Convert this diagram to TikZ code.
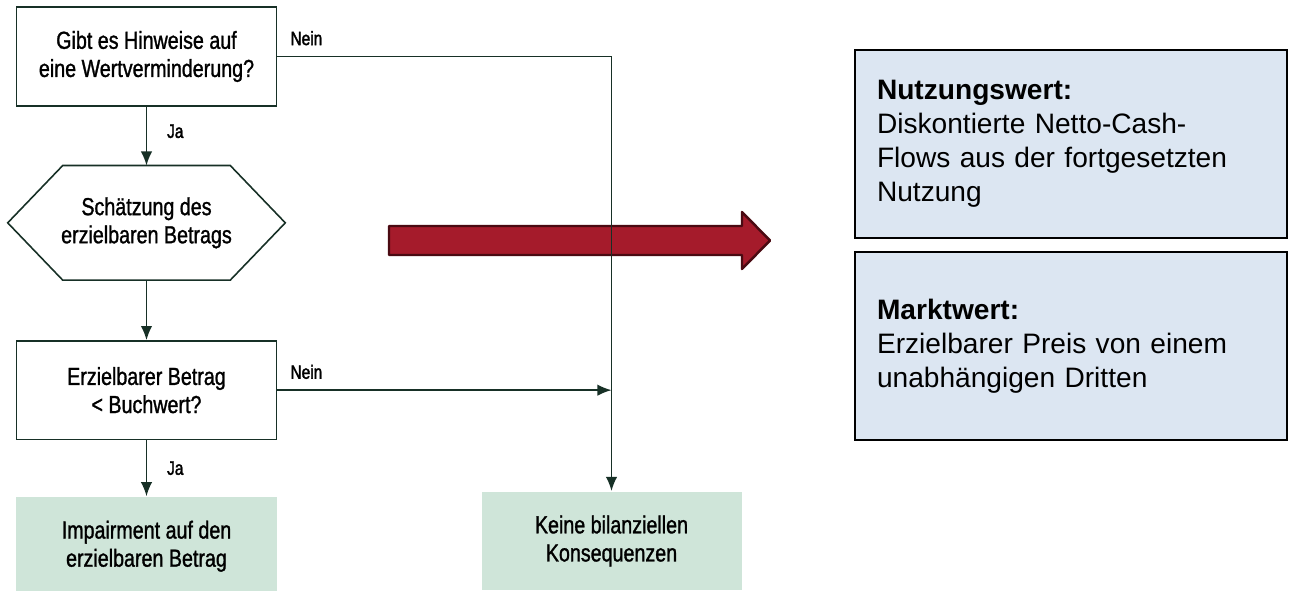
\documentclass[tikz,border=0pt]{standalone}
\usepackage{fontspec}
\setmainfont{Liberation Sans}
\newfontfamily\condfont[FakeStretch=0.8, FakeBold=1.2]{Liberation Sans}
\newfontfamily\labelfont[FakeStretch=0.8, FakeBold=2]{Liberation Sans}
\usetikzlibrary{shapes,arrows.meta,positioning}

\definecolor{linegreen}{HTML}{173026}
\definecolor{resultgreen}{HTML}{CFE5D9}
\definecolor{valueblue}{HTML}{DCE6F2}
\definecolor{arrowred}{HTML}{A51B2B}
\definecolor{arrowdark}{HTML}{4A0A12}

\tikzset{
  flow/.style={draw=linegreen, line width=0.9pt, fill=white, minimum width=5.2cm,
    minimum height=1.97cm, align=center, font=\condfont\fontsize{14}{16}\selectfont},
  result/.style={flow, draw=none, fill=resultgreen},
  hexbox/.style={flow, draw=none, fill=none, minimum width=5.52cm, minimum height=2.26cm},
  valuebox/.style={draw=black, line width=1pt, fill=valueblue, minimum height=3.76cm,
    text width=7.76cm, align=left, inner xsep=0.44cm, font=\fontsize{16}{19.3}\selectfont},
  conn/.style={draw=linegreen, line width=0.9pt, -{Latex[length=8pt,width=6.5pt]}},
  answer/.style={font=\labelfont\fontsize{11}{12}\selectfont}
}

\begin{document}
\begin{tikzpicture}
\useasboundingbox (0,0) rectangle (25.78,11.8);

% flowchart
\node[flow] (q1) at (2.93,10.67) {Gibt es Hinweise auf\\eine Wertverminderung?};
\node[hexbox, below=1.18cm of q1] (est) {Schätzung des\\erzielbaren Betrags};
\draw[linegreen, line width=0.9pt] (est.west) -- ([xshift=1.1cm]est.north west)
  -- ([xshift=-1.1cm]est.north east) -- (est.east)
  -- ([xshift=-1.1cm]est.south east) -- ([xshift=1.1cm]est.south west) -- cycle;
\node[flow, below=1.2cm of est] (q2) {Erzielbarer Betrag\\< Buchwert?};
\node[result, below=1.12cm of q2] (imp) {Impairment auf den\\erzielbaren Betrag};
\node[result] (keine) at (12.23,0.98) {Keine bilanziellen\\Konsequenzen};
\coordinate (corner) at (keine.north |- q1.east);

% big arrow
\draw[arrowdark, fill=arrowred, line width=1.4pt, line join=round]
  (7.78,7.28) -- (14.84,7.28) -- (14.84,7.56) -- (15.4,6.99)
  -- (14.84,6.42) -- (14.84,6.70) -- (7.78,6.70) -- cycle;

% connectors
\draw[conn] (q1) -- node[answer, right=0.28cm, pos=0.42] (ja1) {Ja} (est);
\draw[conn] (est) -- (q2);
\draw[conn] (q2) -- node[answer, right=0.28cm, pos=0.5] (ja2) {Ja} (imp);
\draw[conn] (q1.east) -- (corner) -- (keine);
\draw[conn] (q2.east) -- (q2.east -| corner);
\node[answer, above right=0.1cm and 0.14cm of q1.east] (nein1) {Nein};
\node[answer, above right=0.1cm and 0.14cm of q2.east] (nein2) {Nein};

% value definitions
\node[valuebox] (nutz) at (21.42,8.92) {\textbf{Nutzungswert:}\\Diskontierte Netto-Cash-\\Flows aus der fortgesetzten\\Nutzung};
\node[valuebox] (markt) at (21.42,4.88) {\textbf{Marktwert:}\\Erzielbarer Preis von einem\\unabhängigen Dritten};
\end{tikzpicture}
\end{document}
